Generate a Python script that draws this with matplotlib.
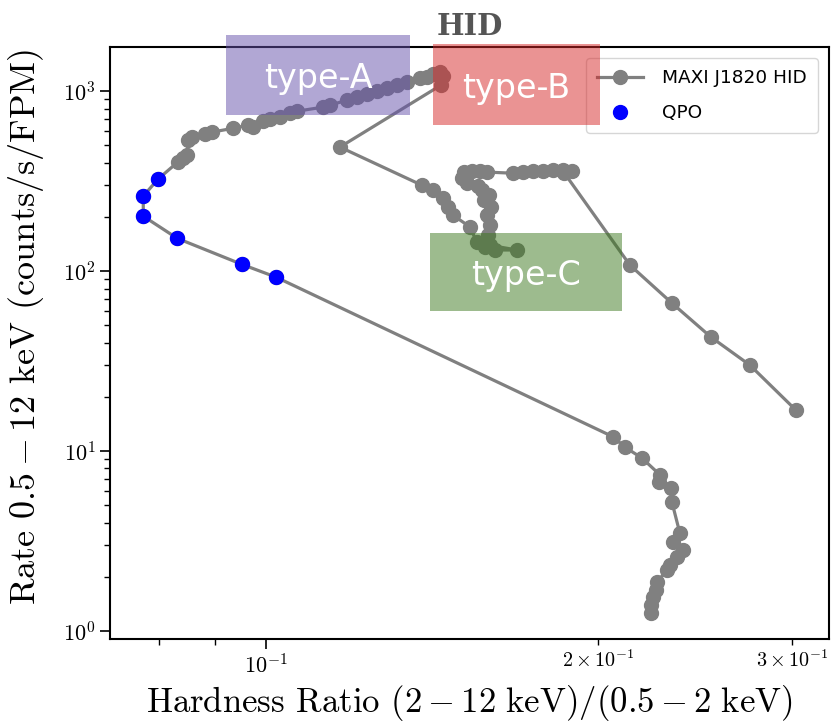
import matplotlib
matplotlib.use('Agg')
import matplotlib.pyplot as plt
from matplotlib.patches import Rectangle
import numpy as np

plt.rcParams['font.family'] = 'serif'
plt.rcParams['font.serif'] = ['cmr10']
plt.rcParams['mathtext.fontset'] = 'cm'
plt.rcParams['axes.formatter.use_mathtext'] = True

# MAXI J1820 track (hardness ratio, rate), in time order
hardness = [0.2234, 0.2234, 0.2244, 0.2258, 0.2263, 0.2310, 0.2325, 0.2359, 0.2389, 0.2339,
            0.2373, 0.2334, 0.2329, 0.2273, 0.2277, 0.2192, 0.2116, 0.2064,
            0.1021, 0.0951, 0.0831, 0.0774, 0.0774, 0.0798,
            0.0832, 0.0841, 0.0848, 0.0850, 0.0857, 0.0880, 0.0893, 0.0934, 0.0963, 0.0973,
            0.0994, 0.1008, 0.1030, 0.1051, 0.1067, 0.1126, 0.1143, 0.1184, 0.1209, 0.1235,
            0.1261, 0.1288, 0.1315, 0.1342, 0.1379, 0.1400, 0.1417, 0.1438, 0.1447, 0.1441,
            0.1167, 0.1385, 0.1417, 0.1447, 0.1462, 0.1477, 0.1531, 0.1553, 0.1579, 0.1613,
            0.1689, 0.1596, 0.1589, 0.1596, 0.1586, 0.1600, 0.1576, 0.1593, 0.1570, 0.1557,
            0.1521, 0.1506, 0.1512, 0.1538, 0.1563, 0.1586, 0.1675, 0.1710, 0.1746, 0.1783,
            0.1820, 0.1859, 0.1894, 0.1865, 0.2138, 0.2334, 0.2532, 0.2747, 0.3023]
rate = [1.26, 1.39, 1.55, 1.69, 1.87, 2.18, 2.33, 2.58, 2.82, 3.12,
        3.50, 5.21, 6.23, 6.73, 7.36, 9.15, 10.5, 12.0,
        92.6, 109, 152, 202, 261, 324,
        404, 425, 441, 535, 555, 577, 592, 622, 647, 631,
        681, 698, 718, 755, 774, 815, 836, 891, 927, 962,
        1000, 1039, 1080, 1122, 1181, 1196, 1243, 1275, 1211, 1080,
        489, 300, 282, 255, 227, 205, 176, 145, 136, 131,
        131, 139, 158, 180, 205, 227, 248, 264, 282, 297,
        308, 329, 355, 359, 359, 355, 350, 355, 359, 359,
        364, 364, 359, 350, 108, 66.4, 43.0, 30.0, 16.9]

# QPO detections
qpo_hardness = [0.1021, 0.0951, 0.0831, 0.0774, 0.0774, 0.0798]
qpo_rate = [92.6, 109, 152, 202, 261, 324]

# QPO type regions: (hardness lo, hardness hi, rate lo, rate hi)
region_names = ['type-A', 'type-B', 'type-C']
region_boxes = [(0.0920, 0.1351, 736, 2047),
                (0.1417, 0.2008, 647, 1825),
                (0.1408, 0.2102, 60.0, 162.6)]
region_colors = [(100/255, 80/255, 170/255), (215/255, 40/255, 40/255), (60/255, 120/255, 30/255)]

fig = plt.figure(figsize=(8.33, 7.26), dpi=100)
ax = fig.add_axes([0.132, 0.120, 0.863, 0.815])

ax.plot(hardness, rate, '-o', color='gray', lw=2.3, ms=10, label='MAXI J1820 HID')
ax.plot(qpo_hardness, qpo_rate, 'o', color='blue', ms=10, ls='none', label='QPO', zorder=3)

ax.set_xscale('log')
ax.set_yscale('log')
ax.set_xlim(0.0722, 0.3239)
ax.set_ylim(0.903, 1756)

ax.set_xlabel(r'Hardness Ratio $(2-12\ \mathrm{keV})/(0.5-2\ \mathrm{keV})$', fontsize=25, labelpad=4)
ax.set_ylabel(r'Rate $0.5-12$ keV $\mathrm{(counts/s/FPM)}$', fontsize=26)
ax.yaxis.set_label_coords(-0.089, 0.527)
ax.tick_params(which='major', labelsize=16, length=7, width=1.2)
ax.tick_params(which='minor', labelsize=14.5, length=4, width=1)
for s in ax.spines.values():
    s.set_linewidth(1.5)

ax.set_title('HID', fontsize=21, fontweight='bold', family='DejaVu Serif', color='#555555', pad=9)

leg = ax.legend(loc='upper right', prop={'family': 'DejaVu Sans', 'size': 13.3},
                labelspacing=0.9, handlelength=2.5, handletextpad=1.0, borderpad=0.6,
                borderaxespad=0.6)

for name, (x0, x1, y0, y1), c in zip(region_names, region_boxes, region_colors):
    ax.add_patch(Rectangle((x0, y0), x1 - x0, y1 - y0, facecolor=c, alpha=0.5,
                           edgecolor='none', clip_on=False, zorder=6))
    ax.text(np.sqrt(x0 * x1), np.sqrt(y0 * y1), name, color='white', fontsize=24,
            family='DejaVu Sans', ha='center', va='center_baseline', zorder=7, clip_on=False)

fig.savefig('out.png', dpi=100)
